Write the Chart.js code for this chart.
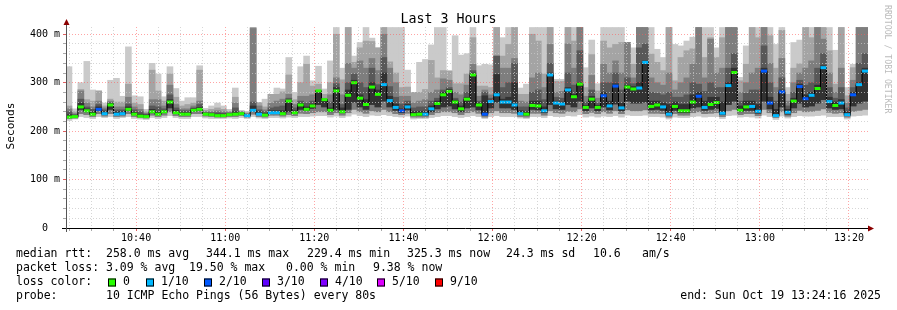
<!DOCTYPE html>
<html lang="en">
<head>
<meta charset="UTF-8">
<title>Last 3 Hours</title>
<style>
    html, body { margin: 0; padding: 0; background: #fff; }
    #wrap { width: 897px; height: 310px; }
</style>
</head>
<body>
<div id="wrap"><canvas id="chart" width="897" height="310"></canvas></div>
<script src="https://cdn.jsdelivr.net/npm/chart.js"></script>
<script>
// time axis: 135 steps of 80 s ending 13:24:16 (minutes since midnight)
const startMin = 10 * 60 + 24 + 16 / 60;
const stepMin = 80 / 60;

// median rtt per step (ms)
const med = [
    229,230,250,242,235,245,236,254,235,236,
    245,235,231,230,240,235,240,260,238,235,
    235,243,245,235,234,232,232,234,235,236,
    232,243,235,233,238,238,236,262,238,254,
    245,252,283,265,243,283,240,274,300,268,
    255,291,276,296,263,249,242,250,234,235,
    235,246,257,275,282,260,246,266,316,254,
    235,261,275,260,260,254,236,235,253,252,
    242,316,258,256,285,271,297,249,266,249,
    273,252,293,248,291,287,289,342,251,254,
    250,235,251,242,242,260,272,249,255,259,
    237,294,321,243,250,251,241,324,258,232,
    281,239,262,292,267,274,288,331,261,253,
    258,234,275,296,324
];
// lost pings out of 10 per step
const loss = [
    0,0,0,0,0,2,1,0,1,1,
    0,0,0,0,0,0,0,0,0,0,
    0,0,0,0,0,0,0,0,0,0,
    1,1,1,0,1,1,0,0,0,0,
    0,0,0,0,0,0,0,0,0,0,
    0,0,0,1,1,1,2,1,0,0,
    1,1,0,0,0,0,0,0,0,0,
    2,1,1,1,1,1,1,0,0,0,
    1,1,1,1,1,0,0,0,0,0,
    2,1,2,1,0,0,1,1,0,0,
    1,1,0,0,0,0,2,1,0,0,
    1,1,0,0,0,1,1,2,2,1,
    2,1,0,2,2,1,0,1,1,0,
    1,1,2,1,1
];
// sorted ping times (smoke), ms
const p10 = [
    333,246,300,344,285,283,258,305,309,272,
    374,273,271,245,340,318,271,333,288,262,
    269,269,335,247,252,258,252,245,289,243,
    241,414,259,266,276,289,287,352,280,333,
    355,304,334,287,345,414,330,414,355,383,
    414,392,372,414,414,414,414,326,280,342,
    348,378,414,414,325,397,357,360,414,335,
    338,337,414,393,414,414,289,297,414,414,
    414,414,307,307,414,414,414,331,388,298,
    414,414,414,414,383,372,414,414,414,369,
    352,414,379,376,386,394,414,414,414,372,
    414,414,414,311,376,414,414,414,414,379,
    414,290,383,388,414,414,414,414,414,367,
    414,290,338,414,414
];
const p9 = [
    252,240,286,265,262,283,252,266,260,260,
    297,258,255,240,326,283,262,318,270,252,
    255,258,326,243,245,248,245,241,270,241,
    238,414,259,250,276,276,281,316,265,300,
    338,293,297,276,300,400,306,414,342,372,
    386,385,372,414,343,320,290,291,280,280,
    286,346,310,325,324,298,298,318,393,293,
    293,290,414,355,379,414,276,276,400,386,
    318,414,303,303,414,386,414,290,358,283,
    386,372,379,383,383,338,414,414,359,342,
    325,414,304,352,366,370,414,352,393,352,
    393,414,414,304,338,414,393,414,397,330,
    408,276,330,339,414,393,414,414,366,297,
    414,273,331,414,414
];
const p8 = [
    246,236,283,258,250,262,248,262,250,250,
    270,250,245,237,265,265,252,295,255,246,
    246,252,262,240,240,242,240,239,258,240,
    236,412,252,244,258,262,266,276,255,272,
    272,275,283,268,275,310,275,340,330,345,
    330,350,325,400,330,300,272,272,258,262,
    265,280,285,308,305,280,275,295,338,272,
    285,275,355,330,330,350,262,260,310,320,
    290,379,280,282,380,330,414,272,315,268,
    338,320,345,320,383,310,414,414,310,300,
    295,320,285,300,310,338,414,310,390,320,
    330,414,414,280,300,320,330,414,340,290,
    350,262,300,320,330,345,414,390,320,280,
    330,258,305,414,414
];
const p7 = [
    240,234,266,250,245,255,244,259,244,244,
    256,244,240,235,252,250,246,275,248,242,
    242,248,255,238,238,238,237,237,248,238,
    235,260,244,240,248,250,252,268,248,262,
    258,262,283,266,260,298,255,300,318,300,
    290,330,296,352,292,270,256,262,248,250,
    250,262,268,285,290,268,260,280,325,262,
    280,268,355,290,300,340,250,250,280,285,
    265,340,270,268,320,295,366,260,285,258,
    300,300,320,285,310,298,372,380,280,278,
    275,280,270,270,275,300,297,282,300,290,
    290,330,360,262,278,285,285,376,300,262,
    310,252,280,305,295,300,330,360,290,268,
    290,248,290,340,360
];
const p6 = [
    234,232,258,246,240,250,240,257,240,240,
    250,239,235,233,245,240,243,265,243,238,
    238,246,249,237,236,235,235,236,240,237,
    234,252,240,236,242,242,242,264,242,257,
    250,256,283,265,248,290,248,285,305,275,
    265,300,285,320,272,256,246,255,240,241,
    241,252,262,280,286,264,252,270,320,258,
    273,264,317,266,270,300,242,240,262,262,
    250,320,262,260,290,276,300,253,272,253,
    280,262,298,258,295,292,300,345,262,262,
    258,255,260,255,255,275,280,262,270,270,
    260,300,330,252,262,262,255,330,270,245,
    285,245,268,297,275,280,295,335,270,260,
    265,240,280,300,330
];
const p5 = [
    228,229,245,240,234,243,235,245,234,235,
    243,234,230,229,238,234,238,248,236,234,
    234,241,243,234,233,231,231,233,234,235,
    231,241,234,232,237,237,235,240,236,245,
    243,247,255,250,240,245,238,245,260,250,
    245,255,250,262,250,243,238,244,232,233,
    233,240,246,250,252,246,240,248,250,244,
    233,248,260,248,248,245,234,233,245,244,
    238,255,246,245,255,250,262,242,248,242,
    250,244,256,242,262,258,258,260,244,245,
    243,233,243,238,238,248,250,243,245,247,
    234,255,262,240,243,243,237,262,246,231,
    250,235,248,258,250,252,258,265,248,245,
    246,232,252,258,262
];
const p3 = [
    226,227,236,234,230,236,231,236,230,231,
    236,230,228,227,233,230,233,240,232,230,
    230,236,236,231,230,229,229,230,230,232,
    229,235,230,229,233,233,231,234,232,237,
    236,238,240,240,234,238,233,238,245,240,
    237,242,240,245,240,236,234,237,229,229,
    229,234,238,240,240,238,234,238,240,237,
    229,238,242,238,238,237,230,229,237,237,
    233,242,238,237,241,240,246,236,239,236,
    240,237,242,236,244,242,242,244,237,237,
    236,229,236,233,233,238,240,236,237,238,
    230,242,245,234,236,236,232,245,238,228,
    240,231,238,243,240,241,243,246,239,237,
    238,229,241,243,245
];
const p1 = [
    222,225,230,228,226,230,228,230,226,228,
    230,226,225,224,228,226,228,232,228,226,
    226,230,230,227,226,226,226,227,226,228,
    226,230,227,226,228,228,227,229,228,230,
    230,231,232,232,229,231,228,231,235,232,
    230,233,232,234,232,230,229,231,225,226,
    226,228,230,232,232,230,228,230,232,230,
    226,230,232,230,230,230,227,226,230,230,
    228,232,230,230,232,231,234,229,231,229,
    231,230,232,229,233,232,232,233,230,230,
    229,225,229,228,228,230,231,229,230,230,
    226,232,233,229,230,229,227,233,230,224,
    231,227,230,232,231,231,232,233,230,230,
    230,225,231,232,233
];

// axis labels
const xTickLabels = ['10:40','11:00','11:20','11:40','12:00','12:20','12:40','13:00','13:20'];
const yTickValues = [0, 100, 200, 300, 400];
const yTickLabels = ['0  ', '100 m', '200 m', '300 m', '400 m'];

// loss colours, index = lost pings
const lossColors = ['#26ff00','#00b8ff','#0059ff','#5e00ff','#7e00ff','#dd00ff','#dd00ff','#dd00ff','#dd00ff','#ff0000','#ff0000'];
const legendLoss = ['0','1/10','2/10','3/10','4/10','5/10','9/10'];
const legendLossColors = ['#26ff00','#00b8ff','#0059ff','#5e00ff','#7e00ff','#dd00ff','#ff0000'];

const FONT = '"DejaVu Sans Mono", "Liberation Mono", monospace';
const endMin = startMin + med.length * stepMin;
const xs = med.map((v, i) => startMin + (i + 0.5) * stepMin);

function toMin(label) {
    const parts = label.split(':');
    return parseInt(parts[0]) * 60 + parseInt(parts[1]);
}
function fmtMin(m) {
    const idx = xTickLabels.findIndex(l => toMin(l) === m);
    return idx >= 0 ? xTickLabels[idx] : '';
}

function band(lo, hi) {
    return xs.map((x, i) => ({ x: x, y: [lo[i], hi[i]] }));
}

// smoke bands, light to dark (drawn on top of each other)
const bands = [
    { lo: p1, hi: p10, color: '#cacaca' },
    { lo: p3, hi: p9,  color: '#a4a4a4' },
    { lo: p3, hi: p8,  color: '#7e7e7e' },
    { lo: p5, hi: p7,  color: '#585858' },
    { lo: p5, hi: p6,  color: '#323232' }
];

const datasets = bands.map((b, k) => ({
    type: 'bar',
    data: band(b.lo, b.hi),
    backgroundColor: b.color,
    borderWidth: 0,
    grouped: false,
    barPercentage: 1,
    categoryPercentage: 1,
    order: 10 - k
}));

// black median step line
const lineData = med.map((v, i) => ({ x: startMin + i * stepMin, y: v }));
lineData.push({ x: endMin, y: med[med.length - 1] });
datasets.push({
    type: 'line',
    data: lineData,
    stepped: true,
    borderColor: '#000',
    borderWidth: 1,
    pointRadius: 0,
    fill: false,
    order: 2
});

// coloured median marks
datasets.push({
    type: 'line',
    data: xs.map((x, i) => ({ x: x, y: med[i] })),
    showLine: false,
    pointStyle: 'line',
    pointRadius: 3,
    pointBorderWidth: 3,
    pointBorderColor: loss.map(l => lossColors[l]),
    pointBackgroundColor: loss.map(l => lossColors[l]),
    order: 1
});

const minorGrid = 'rgba(200,200,200,0.75)';
const majorGrid = 'rgba(255,90,90,0.55)';

// texts under the graph
const legendRows = [
    { y: 254.5, items: [['median rtt:', 16], ['258.0 ms avg', 106], ['344.1 ms max', 206], ['229.4 ms min', 307], ['325.3 ms now', 407], ['24.3 ms sd', 506], ['10.6', 593], ['am/s', 642]] },
    { y: 268.5, items: [['packet loss:', 16], ['3.09 % avg', 106], ['19.50 % max', 189], ['0.00 % min', 286], ['9.38 % now', 373]] },
    { y: 282.5, items: [['loss color:', 16]] },
    { y: 296.5, items: [['probe:', 16], ['10 ICMP Echo Pings (56 Bytes) every 80s', 106]] }
];
const lossBoxX = [108, 146, 204, 262, 320, 377, 435];
const endText = 'end: Sun Oct 19 13:24:16 2025';

const rrdPlugin = {
    id: 'rrdText',
    afterDraw(chart) {
        const c = chart.ctx;
        const a = chart.chartArea;
        c.save();
        // axes
        c.lineWidth = 1;
        c.strokeStyle = '#000';
        c.beginPath(); c.moveTo(a.left - 4, a.bottom + 0.5); c.lineTo(a.right + 1, a.bottom + 0.5); c.stroke();
        c.strokeStyle = '#555';
        c.beginPath(); c.moveTo(a.left + 0.5, a.bottom + 4); c.lineTo(a.left + 0.5, a.top - 3); c.stroke();
        c.fillStyle = '#8b0000';
        c.beginPath(); c.moveTo(a.left - 2.5, a.top - 2); c.lineTo(a.left + 3.5, a.top - 2); c.lineTo(a.left + 0.5, a.top - 8); c.closePath(); c.fill();
        c.beginPath(); c.moveTo(a.right, a.bottom - 2.5); c.lineTo(a.right, a.bottom + 3.5); c.lineTo(a.right + 6, a.bottom + 0.5); c.closePath(); c.fill();

        // title
        c.fillStyle = '#000';
        c.font = '13.3px ' + FONT;
        c.textAlign = 'center';
        c.textBaseline = 'middle';
        c.fillText('Last 3 Hours', 448.5, 20);

        // y axis title
        c.save();
        c.translate(11, 126);
        c.rotate(-Math.PI / 2);
        c.font = '11.2px ' + FONT;
        c.fillText('Seconds', 0, 0);
        c.restore();

        // watermark
        c.save();
        c.translate(887, 5);
        c.rotate(Math.PI / 2);
        c.textAlign = 'left';
        c.fillStyle = '#bbbbbb';
        c.font = '8.2px ' + FONT;
        c.fillText('RRDTOOL / TOBI OETIKER', 0, 0);
        c.restore();

        // legend
        c.font = '11.5px ' + FONT;
        c.textAlign = 'left';
        c.fillStyle = '#000';
        legendRows.forEach(row => {
            row.items.forEach(it => c.fillText(it[0], it[1], row.y));
        });
        const boxY = legendRows[2].y;
        legendLoss.forEach((lab, i) => {
            const bx = lossBoxX[i];
            c.fillStyle = legendLossColors[i];
            c.fillRect(bx, boxY - 4, 8, 8);
            c.strokeStyle = '#000';
            c.strokeRect(bx + 0.5, boxY - 3.5, 7, 7);
            c.fillStyle = '#000';
            c.fillText(lab, bx + 15, boxY);
        });
        c.textAlign = 'right';
        c.fillText(endText, 881, legendRows[3].y);
        c.restore();
    }
};

new Chart(document.getElementById('chart'), {
    type: 'bar',
    data: { datasets: datasets },
    plugins: [rrdPlugin],
    options: {
        responsive: false,
        animation: false,
        devicePixelRatio: 1,
        layout: { padding: { left: 0, right: 29, top: 27, bottom: 0 } },
        plugins: { legend: { display: false }, tooltip: { enabled: false }, title: { display: false } },
        scales: {
            x: {
                type: 'linear',
                offset: false,
                min: startMin,
                max: endMin,
                afterBuildTicks: scale => {
                    const t = [];
                    for (let m = Math.ceil(startMin / 5) * 5; m <= endMin; m += 5) t.push({ value: m });
                    scale.ticks = t;
                },
                afterFit: scale => { scale.height = 82; },
                ticks: {
                    autoSkip: false,
                    maxRotation: 0,
                    padding: 1,
                    color: '#000',
                    font: { family: FONT, size: 10 },
                    callback: v => fmtMin(v)
                },
                grid: {
                    z: 1,
                    offset: false,
                    lineWidth: 1,
                    tickLength: 3,
                    color: ctx => (ctx.tick && ctx.tick.value % 20 === 0) ? majorGrid : minorGrid,
                    tickColor: ctx => (ctx.tick && ctx.tick.value % 20 === 0) ? '#e06060' : '#aaaaaa'
                },
                border: { display: false, dash: [1, 2] }
            },
            y: {
                type: 'linear',
                min: 0,
                max: 415,
                afterBuildTicks: scale => {
                    const t = [];
                    for (let v = 0; v <= 400; v += 20) t.push({ value: v });
                    scale.ticks = t;
                },
                afterFit: scale => { scale.width = 66; },
                ticks: {
                    autoSkip: false,
                    padding: 3,
                    color: '#000',
                    font: { family: FONT, size: 10 },
                    callback: v => {
                        const i = yTickValues.indexOf(v);
                        return i >= 0 ? yTickLabels[i] : '';
                    }
                },
                grid: {
                    z: 1,
                    lineWidth: 1,
                    tickLength: 3,
                    color: ctx => {
                        const v = ctx.tick ? ctx.tick.value : -1;
                        if (v === 0) return 'rgba(0,0,0,0)';
                        return v % 100 === 0 ? majorGrid : minorGrid;
                    },
                    tickColor: ctx => (ctx.tick && ctx.tick.value % 100 === 0) ? '#e06060' : '#aaaaaa'
                },
                border: { display: false, dash: [1, 2] }
            }
        }
    }
});
</script>
</body>
</html>
